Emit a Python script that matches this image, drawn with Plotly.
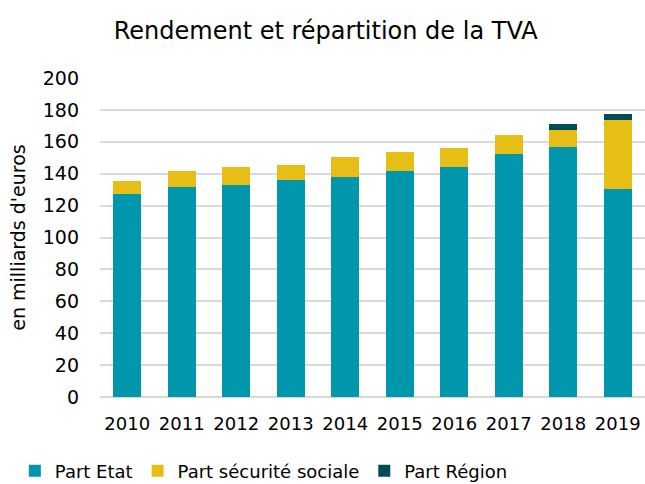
import plotly.graph_objects as go

years = ["2010", "2011", "2012", "2013", "2014", "2015", "2016", "2017", "2018", "2019"]
part_etat = [127.0, 131.4, 132.8, 136.0, 138.0, 141.7, 144.4, 152.4, 157.0, 130.2]
part_secu = [8.6, 10.2, 11.2, 9.2, 12.7, 12.0, 11.8, 11.6, 10.6, 43.2]
part_region = [0, 0, 0, 0, 0, 0, 0, 0, 3.8, 4.2]

FONT = "DejaVu Sans"

fig = go.Figure()
fig.add_trace(go.Bar(x=years, y=part_etat, name="Part Etat", marker_color="#0097AC",
                     marker_line_width=0))
fig.add_trace(go.Bar(x=years, y=part_secu, name="Part sécurité sociale", marker_color="#E6BE16",
                     marker_line_width=0))
fig.add_trace(go.Bar(x=years, y=part_region, name="Part Région", marker_color="#004D5A",
                     marker_line_width=0))

fig.update_layout(
    width=645, height=484,
    barmode="stack",
    bargap=0.49,
    plot_bgcolor="white", paper_bgcolor="white",
    font=dict(family=FONT, color="#000000"),
    title=dict(text="Rendement et répartition de la TVA", x=0.505, xanchor="center",
               y=0.936, yanchor="middle", font=dict(size=24, family=FONT, color="#000000")),
    margin=dict(l=100, r=0, t=78, b=87, autoexpand=False),
    xaxis=dict(tickfont=dict(size=18), showline=False, showgrid=False, ticks="",
               automargin=False, ticklabelstandoff=14),
    yaxis=dict(range=[0, 200], dtick=20, tickfont=dict(size=19), gridcolor="#D9D9D9",
               gridwidth=2, zeroline=True, zerolinecolor="#D9D9D9", zerolinewidth=2,
               ticks="", ticklen=0, automargin=False, ticklabelstandoff=20,
               title=dict(text="en milliards d'euros", font=dict(size=19), standoff=12)),
    legend=dict(orientation="h", x=0.023, xref="container", xanchor="left",
                y=0.027, yref="container", yanchor="middle",
                font=dict(size=18), traceorder="normal", itemwidth=30),
)

fig.write_html("out.html", config={"displayModeBar": False},
               post_script="document.body.style.margin='0';window.dispatchEvent(new Event('resize'));")
